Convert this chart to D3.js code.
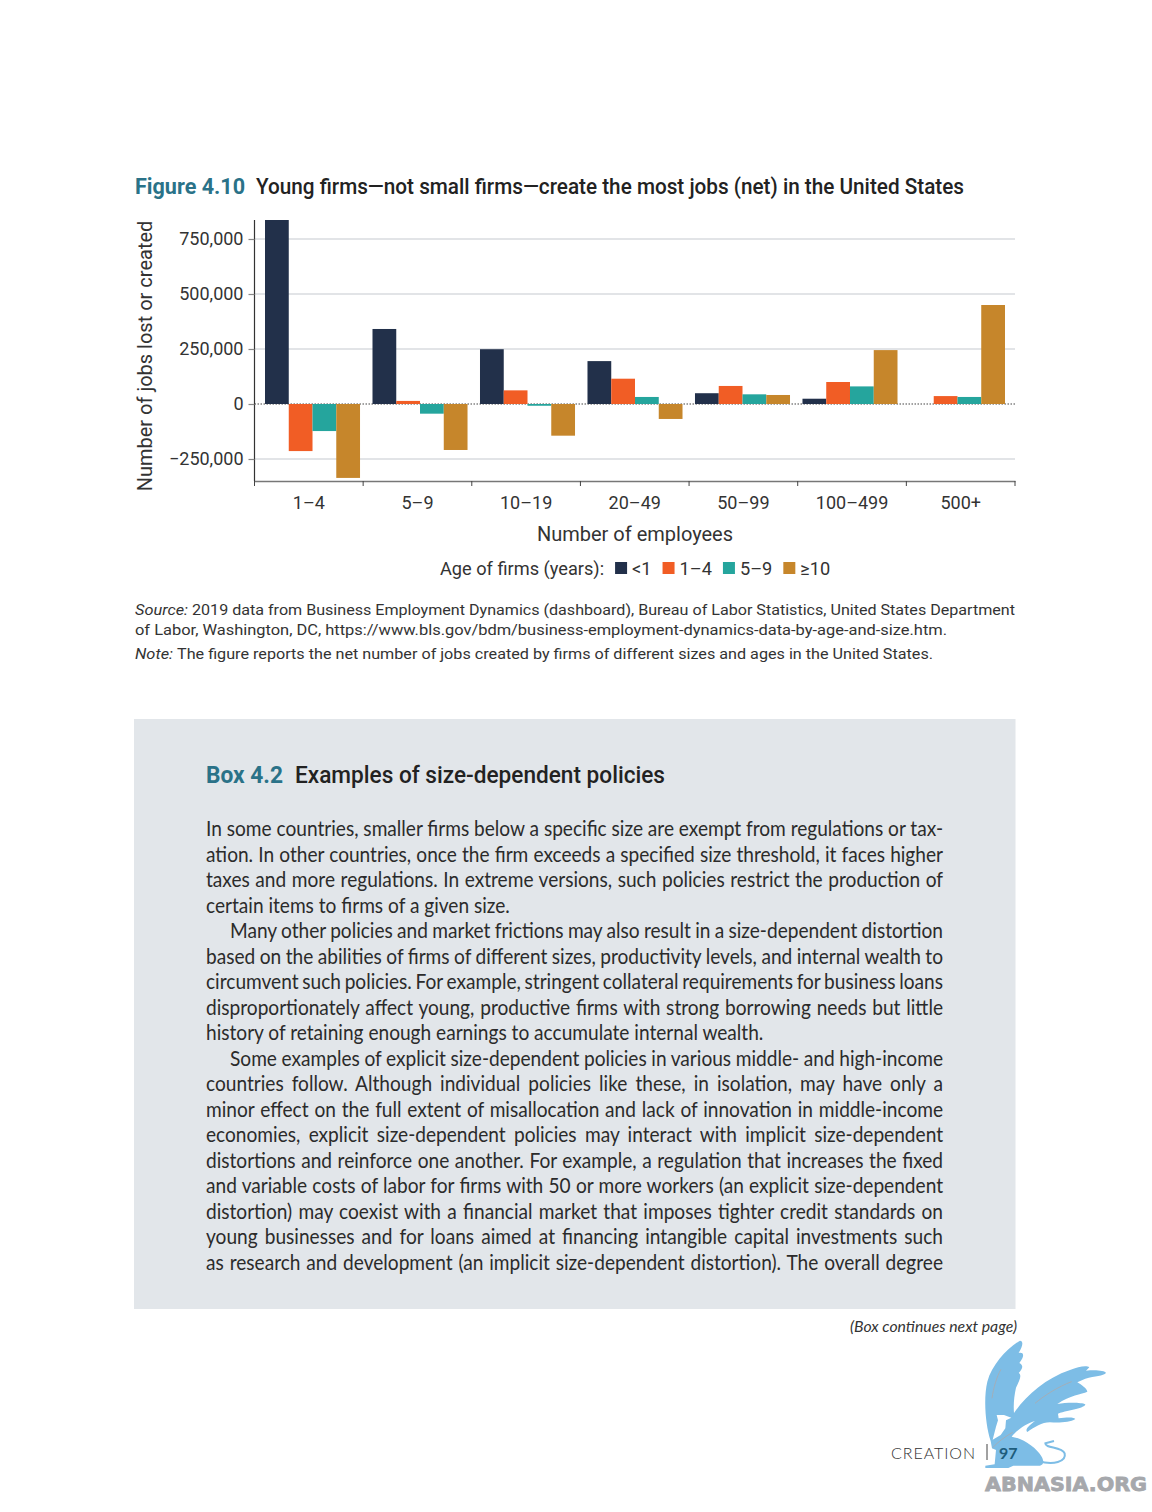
<!DOCTYPE html>
<html>
<head>
<meta charset="utf-8">
<script src="https://cdn.jsdelivr.net/npm/d3@7"></script>
<style>
    html, body { margin: 0; padding: 0; background: #fff; }
    svg { display: block; }
    text { font-family: Roboto, sans-serif; fill: #333; }
</style>
</head>
<body>
<div id="chart"></div>
<script>
// Chart data
const sizeClasses = ["1\u20134", "5\u20139", "10\u201319", "20\u201349", "50\u201399", "100\u2013499", "500+"];
const ageGroups = ["<1", "1\u20134", "5\u20139", "\u226510"];
const ageUnder1 = [840000, 341000, 249000, 195000, 49000, 24000, 0];
const age1to4 = [-214000, 14000, 62000, 115000, 82000, 100000, 36000];
const age5to9 = [-123000, -44000, -8000, 32000, 44000, 80000, 32000];
const age10plus = [-336000, -209000, -144000, -68000, 41000, 245000, 450000];
const yTicks = [-250000, 0, 250000, 500000, 750000];
const colors = ["#22304a", "#f15d25", "#25a59d", "#c6862b"];

// Box text, one entry per printed line
const boxLines = [
    "In some countries, smaller firms below a specific size are exempt from regulations or tax-",
    "ation. In other countries, once the firm exceeds a specified size threshold, it faces higher",
    "taxes and more regulations. In extreme versions, such policies restrict the production of",
    "certain items to firms of a given size.",
    "Many other policies and market frictions may also result in a size-dependent distortion",
    "based on the abilities of firms of different sizes, productivity levels, and internal wealth to",
    "circumvent such policies. For example, stringent collateral requirements for business loans",
    "disproportionately affect young, productive firms with strong borrowing needs but little",
    "history of retaining enough earnings to accumulate internal wealth.",
    "Some examples of explicit size-dependent policies in various middle- and high-income",
    "countries follow. Although individual policies like these, in isolation, may have only a",
    "minor effect on the full extent of misallocation and lack of innovation in middle-income",
    "economies, explicit size-dependent policies may interact with implicit size-dependent",
    "distortions and reinforce one another. For example, a regulation that increases the fixed",
    "and variable costs of labor for firms with 50 or more workers (an explicit size-dependent",
    "distortion) may coexist with a financial market that imposes tighter credit standards on",
    "young businesses and for loans aimed at financing intangible capital investments such",
    "as research and development (an implicit size-dependent distortion). The overall degree"
];
const indentedLines = [4, 9];
const lastLines = [3, 8];

const series = [ageUnder1, age1to4, age5to9, age10plus];

const svg = d3.select("#chart").append("svg")
    .attr("width", 1152)
    .attr("height", 1512);

// Single line of text squeezed to a known width
function fitted(x, y, str, width, size, opts = {}) {
    return svg.append("text")
        .attr("x", x)
        .attr("y", y)
        .attr("textLength", width)
        .attr("lengthAdjust", "spacingAndGlyphs")
        .style("font-size", size + "px")
        .style("font-weight", opts.weight || 400)
        .style("font-style", opts.italic ? "italic" : "normal")
        .style("fill", opts.fill || "#333")
        .text(str);
}

// Figure title
fitted(135, 194, "Figure 4.10", 110, 22, { weight: 700, fill: "#2a7288" });
fitted(256, 194, "Young firms\u2014not small firms\u2014create the most jobs (net) in the United States", 708, 22, { weight: 500, fill: "#222" });

// Scales
const plotLeft = 254.5, plotRight = 1015, plotTop = 220, plotBottom = 481;
const y = d3.scaleLinear().domain([-350000, 836364]).range([plotBottom, plotTop]);
const xLabels = d3.scaleBand().domain(sizeClasses).range([plotLeft, plotRight]);
const xBars = d3.scaleBand().domain(sizeClasses).range([265, 1005]).paddingInner(0.116);
const barWidth = xBars.bandwidth() / 4;

// Gridlines
svg.append("g")
    .selectAll("line")
    .data(yTicks.filter(d => d !== 0))
    .join("line")
    .attr("x1", plotLeft)
    .attr("x2", plotRight)
    .attr("y1", d => y(d))
    .attr("y2", d => y(d))
    .attr("stroke", "#d9dbdf")
    .attr("stroke-width", 1.5);

// Dotted zero line
svg.append("line")
    .attr("x1", plotLeft)
    .attr("x2", plotRight)
    .attr("y1", y(0))
    .attr("y2", y(0))
    .attr("stroke", "#444")
    .attr("stroke-width", 1.2)
    .attr("stroke-dasharray", "1.5 1.5");

// Bars, the first one runs off the top of the plot
svg.append("clipPath").attr("id", "plot")
    .append("rect")
    .attr("x", plotLeft)
    .attr("y", plotTop)
    .attr("width", plotRight - plotLeft)
    .attr("height", plotBottom - plotTop);

const groups = svg.append("g").attr("clip-path", "url(#plot)")
    .selectAll("g")
    .data(series)
    .join("g")
    .attr("fill", (d, i) => colors[i]);

groups.each(function (values, i) {
    d3.select(this).selectAll("rect")
        .data(values)
        .join("rect")
        .attr("x", (d, j) => xBars(sizeClasses[j]) + i * barWidth)
        .attr("width", barWidth)
        .attr("y", d => y(Math.max(d, 0)))
        .attr("height", d => Math.abs(y(d) - y(0)));
});

// Y axis
const yAxis = svg.append("g")
    .attr("transform", `translate(${plotLeft},0)`)
    .call(d3.axisLeft(y).tickValues(yTicks).tickFormat(d3.format(",")).tickSize(6).tickPadding(5));
yAxis.select(".domain").attr("d", `M0,${plotTop}V${plotBottom}`).attr("stroke", "#333").attr("stroke-width", 1.2);
yAxis.selectAll("line").attr("stroke", "#888").attr("stroke-width", 1.2);
yAxis.selectAll("text").style("font-size", "18px").style("font-family", "Roboto").style("fill", "#333");

// X axis, ticks sit on the class boundaries
const xAxis = svg.append("g")
    .attr("transform", `translate(0,${plotBottom})`)
    .call(d3.axisBottom(xLabels).tickSize(0).tickPadding(15));
xAxis.select(".domain").attr("stroke", "#777").attr("stroke-width", 1.5);
xAxis.selectAll("text").style("font-size", "18px").style("font-family", "Roboto").style("fill", "#333");
svg.append("g")
    .selectAll("line")
    .data(d3.range(sizeClasses.length + 1))
    .join("line")
    .attr("x1", i => plotLeft + i * xLabels.step())
    .attr("x2", i => plotLeft + i * xLabels.step())
    .attr("y1", plotBottom)
    .attr("y2", plotBottom + 5)
    .attr("stroke", "#444")
    .attr("stroke-width", 1);

// Axis titles
svg.append("text")
    .attr("transform", "translate(152,356) rotate(-90)")
    .style("text-anchor", "middle")
    .style("font-size", "20px")
    .text("Number of jobs lost or created");

svg.append("text")
    .attr("x", 635)
    .attr("y", 541)
    .style("text-anchor", "middle")
    .style("font-size", "20px")
    .text("Number of employees");

// Legend, laid out by measuring each label
const legend = svg.append("g").attr("transform", "translate(440,575)");
const legendTitle = legend.append("text")
    .style("font-size", "18.2px")
    .text("Age of firms (years):");
let legendX = legendTitle.node().getComputedTextLength() + 11;
ageGroups.forEach((label, i) => {
    legend.append("rect")
        .attr("x", legendX)
        .attr("y", -13)
        .attr("width", 12)
        .attr("height", 12)
        .attr("fill", colors[i]);
    const t = legend.append("text")
        .attr("x", legendX + 17)
        .style("font-size", "18.2px")
        .text(label);
    legendX += 17 + t.node().getComputedTextLength() + 11;
});

// Source and note
fitted(135, 615, "Source:", 53, 15.5, { italic: true });
fitted(192, 615, "2019 data from Business Employment Dynamics (dashboard), Bureau of Labor Statistics, United States Department", 823, 15.5);
fitted(135, 635, "of Labor, Washington, DC, https://www.bls.gov/bdm/business-employment-dynamics-data-by-age-and-size.htm.", 812, 15.5);
fitted(135, 659, "Note:", 38, 15.5, { italic: true });
fitted(177, 659, "The figure reports the net number of jobs created by firms of different sizes and ages in the United States.", 756, 15.5);

// Box background and heading
svg.append("rect")
    .attr("x", 134)
    .attr("y", 719)
    .attr("width", 881.5)
    .attr("height", 590)
    .attr("fill", "#e2e6ea");

fitted(206, 783, "Box 4.2", 77, 23, { weight: 700, fill: "#2a7288" });
fitted(295, 783, "Examples of size-dependent policies", 370, 23, { weight: 500, fill: "#222" });

// Box text, justified with word spacing on a slightly narrowed font
const boxLeft = 206, boxRight = 943, boxIndent = 24, squeeze = 0.91;
boxLines.forEach((line, i) => {
    const indent = indentedLines.includes(i) ? boxIndent : 0;
    const t = svg.append("text")
        .attr("transform", `translate(${boxLeft + indent},${836 + i * 25.5}) scale(${squeeze},1)`)
        .style("font-family", "Lato")
        .style("font-size", "21px")
        .style("fill", "#2b2b2b")
        .text(line);
    if (!lastLines.includes(i)) {
        const spaces = line.split(" ").length - 1;
        const target = (boxRight - boxLeft - indent) / squeeze;
        t.style("word-spacing", (target - t.node().getComputedTextLength()) / spaces + "px");
    }
});

// Footer
svg.append("text")
    .attr("x", 1017)
    .attr("y", 1332)
    .style("text-anchor", "end")
    .style("font-family", "Lato")
    .style("font-style", "italic")
    .style("font-size", "15.8px")
    .text("(Box continues next page)");

// Griffin logo, outline traced in a 3x crop
const griffin = svg.append("g").attr("transform", "translate(970,1335) scale(0.3333)");
griffin.append("path")
    .attr("fill", "#7dbde6")
    .attr("d", "M62,318 C46,270 40,190 52,140 C66,90 110,40 150,17 C160,18 160,30 146,54 C158,50 168,58 148,84 C160,90 160,100 146,114 C156,120 150,134 138,158 C132,185 130,210 132,234 C165,185 225,130 300,105 C325,95 350,90 358,97 L348,107 C375,104 405,106 408,114 C400,124 375,122 346,131 L322,142 C335,150 350,160 352,170 C335,178 300,180 262,207 C290,202 335,202 346,208 C345,220 300,224 264,236 L266,250 C290,246 315,246 316,252 C300,262 270,264 240,262 C215,262 195,276 172,291 C165,285 172,275 195,258 C170,265 140,285 125,305 C160,310 200,340 215,365 C222,378 222,388 210,392 L130,392 L115,399 L46,399 L46,392 L74,388 L78,345 L66,340 Z");
// Tail
griffin.append("path")
    .attr("fill", "none")
    .attr("stroke", "#7dbde6")
    .attr("stroke-width", 6)
    .attr("d", "M205,378 C250,392 290,380 284,355 C276,335 225,340 226,325 L252,318");
// White head and neck
griffin.append("path")
    .attr("fill", "#fff")
    .attr("d", "M80,240 L102,240 L124,248 L108,256 L106,280 L92,300 L68,314 L78,275 L84,256 Z");
// Grey feather streaks
griffin.append("path")
    .attr("fill", "none")
    .attr("stroke", "#a3aeb8")
    .attr("stroke-width", 3)
    .attr("d", "M66,190 C70,160 80,125 93,103 M195,205 C225,180 265,155 305,140 M68,338 C85,320 105,305 128,292");

svg.append("text")
    .attr("x", 891)
    .attr("y", 1459)
    .attr("textLength", 84)
    .style("font-family", "Lato")
    .style("font-weight", 300)
    .style("font-size", "16px")
    .style("fill", "#333")
    .text("CREATION");
svg.append("line")
    .attr("x1", 987)
    .attr("x2", 987)
    .attr("y1", 1444)
    .attr("y2", 1460)
    .attr("stroke", "#444");
svg.append("text")
    .attr("x", 999)
    .attr("y", 1459)
    .style("font-family", "Lato")
    .style("font-weight", 700)
    .style("font-size", "16px")
    .style("fill", "#1d5c7c")
    .text("97");

// Watermark
svg.append("text")
    .attr("x", 985)
    .attr("y", 1491)
    .attr("textLength", 162)
    .attr("lengthAdjust", "spacingAndGlyphs")
    .style("font-family", "DejaVu Sans")
    .style("font-weight", 700)
    .style("font-size", "19px")
    .style("fill", "#a6a8ac")
    .style("stroke", "#a6a8ac")
    .style("stroke-width", 0.8)
    .text("ABNASIA.ORG");
</script>
</body>
</html>
